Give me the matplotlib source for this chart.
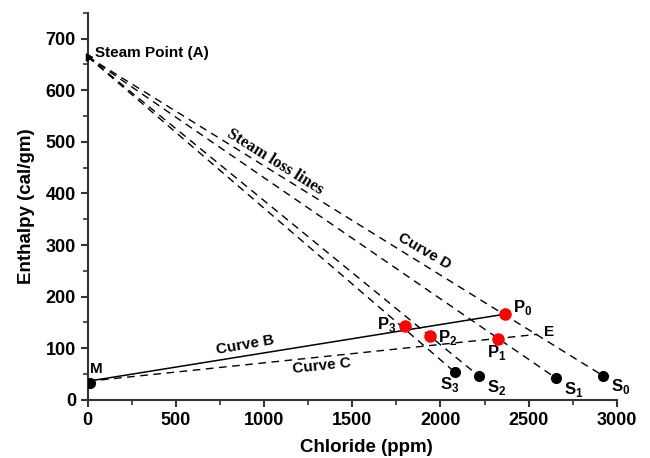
import matplotlib
matplotlib.use('Agg')
import matplotlib.pyplot as plt

# steam point and end points of the steam loss lines
steam_x = 0
steam_y = 665
s_names = ['S0', 'S1', 'S2', 'S3']
s_x = [2920, 2655, 2218, 2080]
s_y = [47, 42, 46, 54]

# intersection points (red)
p_names = ['P0', 'P1', 'P2', 'P3']
p_x = [2365, 2326, 1943, 1797]
p_y = [166, 117, 124, 144]

# mixing point M and end point E
m_x, m_y = 10, 33
curve_b_x = [0, 2365]
curve_b_y = [36, 166]
curve_c_x = [0, 2550]
curve_c_y = [36, 127]

plt.rcParams['font.family'] = ['Liberation Sans', 'DejaVu Sans']
plt.rcParams['mathtext.fontset'] = 'custom'
plt.rcParams['mathtext.rm'] = 'Liberation Sans:bold'
plt.rcParams['mathtext.bf'] = 'Liberation Sans:bold'

fig = plt.figure(figsize=(6.5, 4.58), dpi=100)
ax = fig.add_axes([0.135, 0.127, 0.814, 0.845])

dash = (0, (5.5, 4))
for sx, sy in zip(s_x, s_y):
    ax.plot([steam_x, sx], [steam_y, sy], color='black', lw=1.0, linestyle=dash)

ax.plot(curve_b_x, curve_b_y, color='black', lw=1.1)
ax.plot(curve_c_x, curve_c_y, color='black', lw=1.0, linestyle=dash)

ax.plot(s_x, s_y, 'o', color='black', ms=7, zorder=5)
ax.plot(p_x, p_y, 'o', color='red', ms=8, zorder=5)
ax.plot([m_x], [m_y], 'o', color='black', ms=7, zorder=5)
ax.plot([steam_x], [steam_y], marker=(3, 0, 30), color='black', ms=6, zorder=5, clip_on=False)

fs = 11
# labels for S points
s_off = [(45, -22), (45, -22), (45, -22), (-85, -24)]
for n, x, y, (dx, dy) in zip(s_names, s_x, s_y, s_off):
    ax.text(x + dx, y + dy, r'$\mathrm{S}_{%s}$' % n[1], fontsize=fs + 1, va='center', ha='left')
p_off = [(45, 12), (-60, -26), (45, -4), (-155, 2)]
for n, x, y, (dx, dy) in zip(p_names, p_x, p_y, p_off):
    ax.text(x + dx, y + dy, r'$\mathrm{P}_{%s}$' % n[1], fontsize=fs + 1, va='center', ha='left')

ax.text(15, 60, 'M', fontsize=fs, fontweight='bold', va='center', ha='left')
ax.text(2585, 132, 'E', fontsize=fs, fontweight='bold', va='center', ha='left')
ax.text(40, 672, 'Steam Point (A)', fontsize=fs, fontweight='bold', va='center', ha='left')
ax.text(1061, 462, 'Steam loss lines', fontsize=12, fontweight='bold', family='Liberation Serif',
        rotation=-32, va='center', ha='center', rotation_mode='anchor')
ax.text(1911, 288, 'Curve D', fontsize=fs, fontweight='bold', rotation=-30, va='center', ha='center',
        rotation_mode='anchor')
ax.text(890, 106, 'Curve B', fontsize=fs, fontweight='bold', rotation=10, va='center', ha='center',
        rotation_mode='anchor')
ax.text(1327, 66, 'Curve C', fontsize=fs, fontweight='bold', rotation=6, va='center', ha='center',
        rotation_mode='anchor')

ax.set_xlim(0, 3000)
ax.set_ylim(0, 750)
ax.set_xticks([0, 500, 1000, 1500, 2000, 2500, 3000])
ax.set_xticks(range(250, 3000, 500), minor=True)
ax.set_yticks(range(0, 701, 100))
ax.set_yticks(range(50, 751, 100), minor=True)

for side in ['top', 'right']:
    ax.spines[side].set_visible(False)
for side in ['left', 'bottom']:
    ax.spines[side].set_linewidth(1.5)
    ax.spines[side].set_color('#333333')

ax.tick_params(which='major', direction='out', length=5, width=1.5, color='#333333', labelsize=13)
ax.tick_params(which='minor', direction='out', length=3.5, width=1.2, color='#333333')
for lab in ax.get_xticklabels() + ax.get_yticklabels():
    lab.set_fontweight('bold')

ax.set_xlabel('Chloride (ppm)', fontsize=13.5, fontweight='bold')
ax.xaxis.set_label_coords(0.527, -0.1)
ax.set_ylabel('Enthalpy (cal/gm)', fontsize=13.5, fontweight='bold', labelpad=8)

fig.savefig('out.png', dpi=100)
